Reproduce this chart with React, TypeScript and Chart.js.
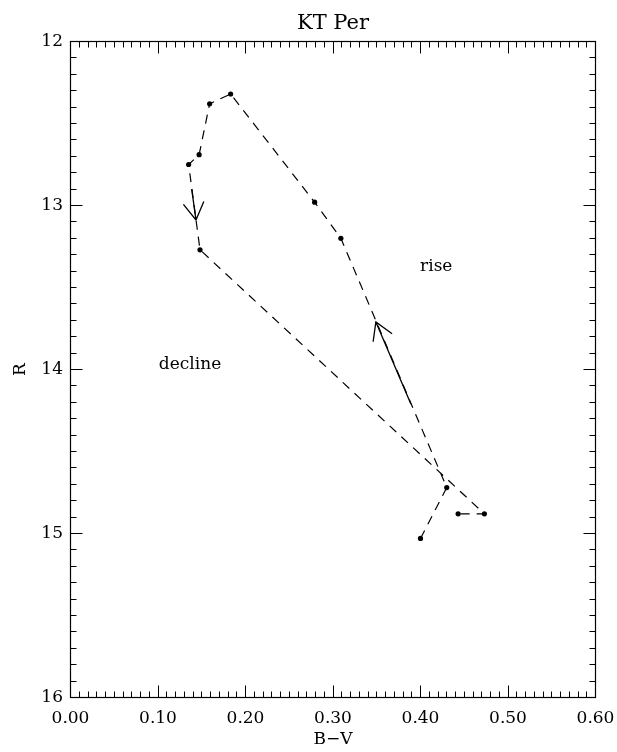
import React, { useEffect, useRef } from "react";
import { Chart, registerables } from "chart.js";

Chart.register(...registerables);

// ---- Data ----
const bvValues = [0.4, 0.43, 0.309, 0.279, 0.183, 0.159, 0.147, 0.135, 0.148, 0.473, 0.443];
const rValues = [15.03, 14.72, 13.2, 12.98, 12.32, 12.38, 12.69, 12.75, 13.27, 14.88, 14.88];

// arrows: [tailX, tailY, tipX, tipY]
const riseArrow = [0.389, 14.21, 0.349, 13.71];
const declineArrow = [0.1385, 12.9, 0.1434, 13.088];

const annotationTexts = ["rise", "decline"];
const annotationX = [0.418, 0.1366];
const annotationY = [13.37, 13.97];

const xTickValues = [0, 0.1, 0.2, 0.3, 0.4, 0.5, 0.6];
const yTickValues = [12, 13, 14, 15, 16];
const xMinorStep = 0.01;
const yMinorStep = 0.1;

const FONT = "'DejaVu Serif', serif";

const framePlugin = {
  id: "frameTicks",
  afterDatasetsDraw(chart: any) {
    const { ctx, chartArea, scales } = chart;
    const xs = scales.x;
    const ys = scales.y;
    const L = Math.round(chartArea.left - 0.5) + 0.5;
    const R = Math.round(chartArea.right - 0.5) + 0.5;
    const T = Math.round(chartArea.top - 0.5) + 0.5;
    const B = Math.round(chartArea.bottom - 0.5) + 0.5;
    ctx.save();
    ctx.strokeStyle = "#000";
    ctx.lineWidth = 1.2;
    ctx.setLineDash([]);
    ctx.strokeRect(L, T, R - L, B - T);

    // x ticks (bottom and top, inward)
    const xMin = xTickValues[0];
    const xMax = xTickValues[xTickValues.length - 1];
    const nx = Math.round((xMax - xMin) / xMinorStep);
    ctx.lineWidth = 1;
    ctx.beginPath();
    for (let i = 0; i <= nx; i++) {
      const v = xMin + i * xMinorStep;
      const px = Math.round(xs.getPixelForValue(v) - 0.5) + 0.5;
      const len = i % 10 === 0 ? 12 : 6;
      ctx.moveTo(px, B);
      ctx.lineTo(px, B - len);
      ctx.moveTo(px, T);
      ctx.lineTo(px, T + len);
    }
    const yMin = yTickValues[0];
    const yMax = yTickValues[yTickValues.length - 1];
    const ny = Math.round((yMax - yMin) / yMinorStep);
    for (let i = 0; i <= ny; i++) {
      const v = yMin + i * yMinorStep;
      const py = Math.round(ys.getPixelForValue(v) - 0.5) + 0.5;
      const len = i % 10 === 0 ? 12 : 6;
      ctx.moveTo(L, py);
      ctx.lineTo(L + len, py);
      ctx.moveTo(R, py);
      ctx.lineTo(R - len, py);
    }
    ctx.stroke();

    // arrows
    const drawArrow = (a: number[]) => {
      const x1 = xs.getPixelForValue(a[0]);
      const y1 = ys.getPixelForValue(a[1]);
      const x2 = xs.getPixelForValue(a[2]);
      const y2 = ys.getPixelForValue(a[3]);
      const ang = Math.atan2(y1 - y2, x1 - x2);
      const head = 20;
      const spread = (31 * Math.PI) / 180;
      ctx.beginPath();
      ctx.moveTo(x1, y1);
      ctx.lineTo(x2, y2);
      ctx.moveTo(x2 + head * Math.cos(ang + spread), y2 + head * Math.sin(ang + spread));
      ctx.lineTo(x2, y2);
      ctx.lineTo(x2 + head * Math.cos(ang - spread), y2 + head * Math.sin(ang - spread));
      ctx.stroke();
    };
    ctx.lineWidth = 1.3;
    drawArrow(riseArrow);
    drawArrow(declineArrow);

    // annotations
    ctx.fillStyle = "#000";
    ctx.font = `17px ${FONT}`;
    ctx.textAlign = "center";
    ctx.textBaseline = "middle";
    annotationTexts.forEach((t, i) => {
      ctx.fillText(t, xs.getPixelForValue(annotationX[i]), ys.getPixelForValue(annotationY[i]));
    });
    ctx.restore();
  },
};

export default function App() {
  const canvasRef = useRef<HTMLCanvasElement | null>(null);

  useEffect(() => {
    const canvas = canvasRef.current;
    if (!canvas) return;
    const data = bvValues.map((x, i) => ({ x, y: rValues[i] }));
    const chart = new Chart(canvas, {
      type: "scatter",
      data: {
        datasets: [
          {
            data,
            showLine: true,
            borderColor: "#000",
            borderWidth: 1.2,
            borderDash: [9, 7],
            pointRadius: 2.6,
            pointBackgroundColor: "#000",
            pointBorderWidth: 0,
            fill: false,
          },
        ],
      },
      options: {
        animation: false,
        responsive: false,
        devicePixelRatio: 1,
        layout: { padding: { left: 0, right: 21.5, top: 0, bottom: 0 } },
        plugins: {
          legend: { display: false },
          tooltip: { enabled: false },
          title: {
            display: true,
            fullSize: false,
            text: "KT Per",
            color: "#000",
            font: { family: FONT, size: 21, weight: "normal" },
            padding: { top: 10.7, bottom: 5.6 },
          },
        },
        scales: {
          x: {
            type: "linear",
            position: "bottom",
            min: xTickValues[0],
            max: xTickValues[xTickValues.length - 1],
            grid: { display: false, drawTicks: false },
            border: { display: false },
            afterBuildTicks: (s: any) => {
              s.ticks = xTickValues.map((v) => ({ value: v }));
            },
            afterFit: (s: any) => {
              s.height = 54.5;
              s.paddingLeft = 0;
              s.paddingRight = 0;
            },
            ticks: {
              callback: (v: any) => Number(v).toFixed(2),
              color: "#000",
              font: { family: FONT, size: 17 },
              padding: 11,
              maxRotation: 0,
              autoSkip: false,
            },
            title: {
              display: true,
              text: "B−V",
              color: "#000",
              font: { family: FONT, size: 17 },
              padding: { top: 0, bottom: 2.5 },
            },
          },
          y: {
            type: "linear",
            position: "left",
            reverse: true,
            min: yTickValues[0],
            max: yTickValues[yTickValues.length - 1],
            grid: { display: false, drawTicks: false },
            border: { display: false },
            afterBuildTicks: (s: any) => {
              s.ticks = yTickValues.map((v) => ({ value: v }));
            },
            afterFit: (s: any) => {
              s.width = 70.5;
              s.paddingTop = 0;
              s.paddingBottom = 0;
            },
            ticks: {
              callback: (v: any) => String(v),
              color: "#000",
              font: { family: FONT, size: 17 },
              padding: 7.5,
              autoSkip: false,
            },
            title: {
              display: true,
              text: "R",
              color: "#000",
              font: { family: FONT, size: 17 },
              padding: { top: 10.5, bottom: 0 },
            },
          },
        },
      } as any,
      plugins: [framePlugin],
    });
    return () => chart.destroy();
  }, []);

  return (
    <div style={{ position: "absolute", left: 0, top: 0, width: 617, height: 752, background: "#fff" }}>
      <canvas ref={canvasRef} width={617} height={752} style={{ width: 617, height: 752, display: "block" }} />
    </div>
  );
}
